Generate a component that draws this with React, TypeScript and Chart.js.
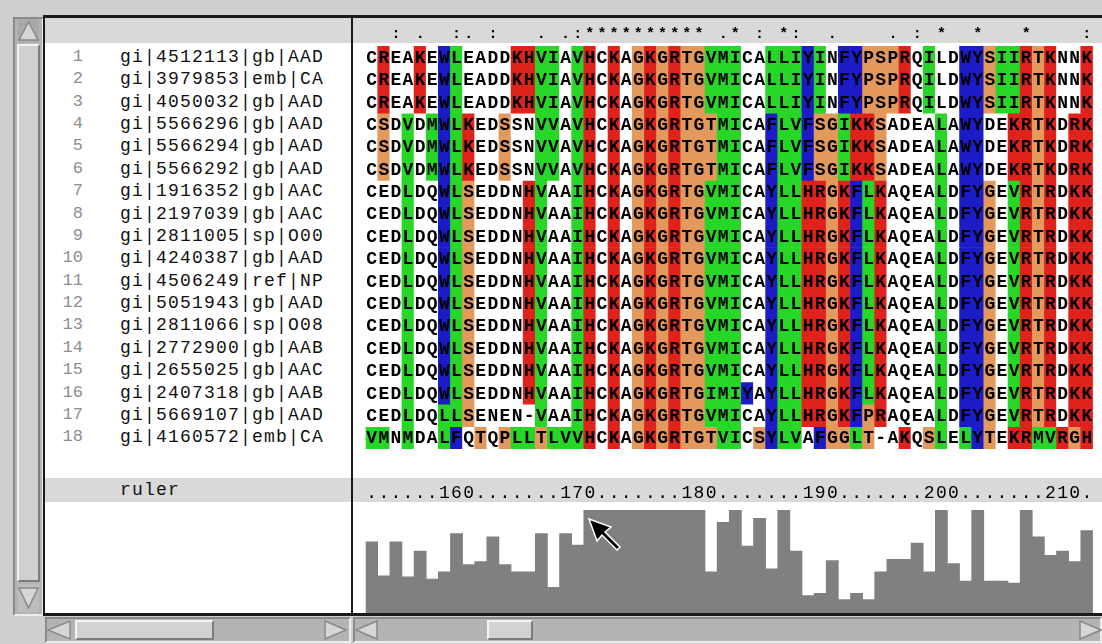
import React, { useEffect, useRef } from "react";
import { Chart, registerables } from "chart.js";

Chart.register(...registerables);

// ---------------- DATA ----------------
const positions = [
  152, 153, 154, 155, 156, 157, 158, 159, 160, 161,
  162, 163, 164, 165, 166, 167, 168, 169, 170, 171,
  172, 173, 174, 175, 176, 177, 178, 179, 180, 181,
  182, 183, 184, 185, 186, 187, 188, 189, 190, 191,
  192, 193, 194, 195, 196, 197, 198, 199, 200, 201,
  202, 203, 204, 205, 206, 207, 208, 209, 210, 211,
];

const seqNames = [
  "gi|4512113|gb|AAD",
  "gi|3979853|emb|CA",
  "gi|4050032|gb|AAD",
  "gi|5566296|gb|AAD",
  "gi|5566294|gb|AAD",
  "gi|5566292|gb|AAD",
  "gi|1916352|gb|AAC",
  "gi|2197039|gb|AAC",
  "gi|2811005|sp|O00",
  "gi|4240387|gb|AAD",
  "gi|4506249|ref|NP",
  "gi|5051943|gb|AAD",
  "gi|2811066|sp|O08",
  "gi|2772900|gb|AAB",
  "gi|2655025|gb|AAC",
  "gi|2407318|gb|AAB",
  "gi|5669107|gb|AAD",
  "gi|4160572|emb|CA",
];

const sequences = [
  "CREAKEWLEADDKHVIAVHCKAGKGRTGVMICALLIYINFYPSPRQILDWYSIIRTKNNK",
  "CREAKEWLEADDKHVIAVHCKAGKGRTGVMICALLIYINFYPSPRQILDWYSIIRTKNNK",
  "CREAKEWLEADDKHVIAVHCKAGKGRTGVMICALLIYINFYPSPRQILDWYSIIRTKNNK",
  "CSDVDMWLKEDSSNVVAVHCKAGKGRTGTMICAFLVFSGIKKSADEALAWYDEKRTKDRK",
  "CSDVDMWLKEDSSNVVAVHCKAGKGRTGTMICAFLVFSGIKKSADEALAWYDEKRTKDRK",
  "CSDVDMWLKEDSSNVVAVHCKAGKGRTGTMICAFLVFSGIKKSADEALAWYDEKRTKDRK",
  "CEDLDQWLSEDDNHVAAIHCKAGKGRTGVMICAYLLHRGKFLKAQEALDFYGEVRTRDKK",
  "CEDLDQWLSEDDNHVAAIHCKAGKGRTGVMICAYLLHRGKFLKAQEALDFYGEVRTRDKK",
  "CEDLDQWLSEDDNHVAAIHCKAGKGRTGVMICAYLLHRGKFLKAQEALDFYGEVRTRDKK",
  "CEDLDQWLSEDDNHVAAIHCKAGKGRTGVMICAYLLHRGKFLKAQEALDFYGEVRTRDKK",
  "CEDLDQWLSEDDNHVAAIHCKAGKGRTGVMICAYLLHRGKFLKAQEALDFYGEVRTRDKK",
  "CEDLDQWLSEDDNHVAAIHCKAGKGRTGVMICAYLLHRGKFLKAQEALDFYGEVRTRDKK",
  "CEDLDQWLSEDDNHVAAIHCKAGKGRTGVMICAYLLHRGKFLKAQEALDFYGEVRTRDKK",
  "CEDLDQWLSEDDNHVAAIHCKAGKGRTGVMICAYLLHRGKFLKAQEALDFYGEVRTRDKK",
  "CEDLDQWLSEDDNHVAAIHCKAGKGRTGVMICAYLLHRGKFLKAQEALDFYGEVRTRDKK",
  "CEDLDQWLSEDDNHVAAIHCKAGKGRTGIMIYAYLLHRGKFLKAQEALDFYGEVRTRDKK",
  "CEDLDQLLSENEN-VAAIHCKAGKGRTGVMICAYLLHRGKFPRAQEALDFYGEVRTRDKK",
  "VMNMDALFQTQPLLTLVVHCKAGKGRTGTVICSYLVAFGGLT-AKQSLELYTEKRMVRGH",
];

// r = red, g = green, b = blue, o = orange, . = uncoloured
const colourCodes = [
  ".r..r.bg....rrgg.gr.r.ororoogg" + "g..gggbg.bbooor.g..bboggror..r",
  ".r..r.bg....rrgg.gr.r.ororoogg" + "g..gggbg.bbooor.g..bboggror..r",
  ".r..r.bg....rrgg.gr.r.ororoogg" + "g..gggbg.bbooor.g..bboggror..r",
  ".o.g.gbgr..o..gg.gr.r.ororooog" + "g..bggboogrro....g.bb..rror.rr",
  ".o.g.gbgr..o..gg.gr.r.ororooog" + "g..bggboogrro....g.bb..rror.rr",
  ".o.g.gbgr..o..gg.gr.r.ororooog" + "g..bggboogrro....g.bb..rror.rr",
  "...g..bgo....rg..gr.r.ororoogg" + "g..bggrrorbgr....g.bbo.gror.rr",
  "...g..bgo....rg..gr.r.ororoogg" + "g..bggrrorbgr....g.bbo.gror.rr",
  "...g..bgo....rg..gr.r.ororoogg" + "g..bggrrorbgr....g.bbo.gror.rr",
  "...g..bgo....rg..gr.r.ororoogg" + "g..bggrrorbgr....g.bbo.gror.rr",
  "...g..bgo....rg..gr.r.ororoogg" + "g..bggrrorbgr....g.bbo.gror.rr",
  "...g..bgo....rg..gr.r.ororoogg" + "g..bggrrorbgr....g.bbo.gror.rr",
  "...g..bgo....rg..gr.r.ororoogg" + "g..bggrrorbgr....g.bbo.gror.rr",
  "...g..bgo....rg..gr.r.ororoogg" + "g..bggrrorbgr....g.bbo.gror.rr",
  "...g..bgo....rg..gr.r.ororoogg" + "g..bggrrorbgr....g.bbo.gror.rr",
  "...g..bgo....rg..gr.r.ororoogg" + "gb.bggrrorbgr....g.bbo.gror.rr",
  "...g..ggo.....g..gr.r.ororoogg" + "g..bggrrorbor....g.bbo.gror.rr",
  "gg.g..gb.o.oggogggr.r.ororooog" + "g.obgg.boogo..r.og.gbo.rrggror",
];

const consensus = "  : .  :. :   . .:**" + "******** .* : *:  . " + "   . : *  *   *    :";

const conservation = [
  69, 36, 69, 35, 60, 33, 40, 77, 47, 50,
  74, 47, 40, 40, 77, 25, 77, 66, 100, 100,
  100, 100, 100, 100, 100, 100, 100, 100, 40, 88,
  100, 65, 92, 43, 100, 60, 17, 19, 51, 13,
  19, 13, 40, 52, 52, 68, 40, 100, 48, 31,
  100, 31, 31, 29, 100, 74, 56, 60, 50, 80,
];

const residueColours: Record<string, string> = {
  r: "#e0221c",
  g: "#27d627",
  b: "#1c1cc6",
  o: "#e3985c",
  ".": "#ffffff",
};

// ---------------- LAYOUT CONSTANTS ----------------
const ALN_TOP = 46;
const ROW_H = 22.37;
const MONO = '"Liberation Mono", "DejaVu Sans Mono", monospace';

function rulerChars(): string[] {
  const out = positions.map(() => ".");
  positions.forEach((p, i) => {
    if (p % 10 === 0) {
      const s = String(p);
      for (let k = 0; k < s.length; k++) {
        const idx = i - (s.length - 1) + k;
        if (idx >= 0) out[idx] = s[k];
      }
    }
  });
  return out;
}

const letterPlugin = {
  id: "residueLetters",
  afterDatasetsDraw(chart: any) {
    const ctx = chart.ctx;
    ctx.save();
    ctx.fillStyle = "#000";
    ctx.textAlign = "center";
    ctx.textBaseline = "middle";
    ctx.font = `bold 18px ${MONO}`;
    sequences.forEach((seq, r) => {
      const meta = chart.getDatasetMeta(r);
      meta.data.forEach((el: any, i: number) => {
        const p = el.getProps(["x", "y", "base"], true);
        ctx.fillText(seq[i], p.x, (p.y + p.base) / 2 + 1);
      });
    });
    const xs = chart.scales.x;
    ctx.font = `bold 15px ${MONO}`;
    consensus.split("").forEach((c, i) => {
      if (c !== " ") ctx.fillText(c, xs.getPixelForValue(i), chart.chartArea.top - 12);
    });
    ctx.restore();
  },
};

const rulerPlugin = {
  id: "rulerText",
  afterDatasetsDraw(chart: any) {
    const ctx = chart.ctx;
    const xs = chart.scales.x;
    ctx.save();
    ctx.fillStyle = "#000";
    ctx.textAlign = "center";
    ctx.textBaseline = "middle";
    ctx.font = `18px ${MONO}`;
    rulerChars().forEach((c, i) => {
      ctx.fillText(c, xs.getPixelForValue(i), chart.chartArea.top - 17);
    });
    ctx.restore();
  },
};

function Box(props: { x: number; y: number; w: number; h: number; bg: string; style?: any }) {
  return (
    <div
      style={{
        position: "absolute",
        left: props.x,
        top: props.y,
        width: props.w,
        height: props.h,
        background: props.bg,
        boxSizing: "border-box",
        ...(props.style || {}),
      }}
    />
  );
}

const bevel = {
  borderTop: "2px solid #f4f4f4",
  borderLeft: "2px solid #f4f4f4",
  borderBottom: "2px solid #7c7c7c",
  borderRight: "2px solid #7c7c7c",
};
const inset = {
  borderTop: "2px solid #8a8a8a",
  borderLeft: "2px solid #8a8a8a",
  borderBottom: "2px solid #ececec",
  borderRight: "2px solid #ececec",
};

export default function App() {
  const alnRef = useRef<HTMLCanvasElement>(null);
  const histRef = useRef<HTMLCanvasElement>(null);

  useEffect(() => {
    const labels = positions.map(String);
    const aln = new Chart(alnRef.current as HTMLCanvasElement, {
      type: "bar",
      data: {
        labels,
        datasets: sequences.map((seq, r) => ({
          label: seqNames[r],
          data: seq.split("").map(() => 1),
          backgroundColor: colourCodes[r].split("").map((c) => residueColours[c] || "#ffffff"),
          borderWidth: 0,
          categoryPercentage: 1,
          barPercentage: 1,
        })),
      },
      options: {
        animation: false,
        responsive: false,
        maintainAspectRatio: false,
        devicePixelRatio: 1,
        events: [],
        layout: { padding: { left: 12.6, right: 9.1, top: 28, bottom: 0 } },
        plugins: { legend: { display: false }, tooltip: { enabled: false } },
        scales: {
          x: { display: false, stacked: true },
          y: { display: false, stacked: true, min: 0, max: sequences.length, reverse: true },
        },
      },
      plugins: [letterPlugin],
    } as any);

    const hist = new Chart(histRef.current as HTMLCanvasElement, {
      type: "bar",
      data: {
        labels,
        datasets: [
          {
            label: "conservation",
            data: conservation,
            backgroundColor: "#808080",
            borderWidth: 0,
            categoryPercentage: 1,
            barPercentage: 1,
          },
        ],
      },
      options: {
        animation: false,
        responsive: false,
        maintainAspectRatio: false,
        devicePixelRatio: 1,
        events: [],
        layout: { padding: { left: 12.6, right: 9.1, top: 32, bottom: 0 } },
        plugins: { legend: { display: false }, tooltip: { enabled: false } },
        scales: {
          x: { display: false },
          y: { display: false, min: 0, max: 100 },
        },
      },
      plugins: [rulerPlugin],
    } as any);

    return () => {
      aln.destroy();
      hist.destroy();
    };
  }, []);

  const nameFont = {
    fontFamily: MONO,
    fontSize: 18,
    letterSpacing: "1.2px",
    whiteSpace: "pre" as const,
  };

  return (
    <div
      style={{
        position: "fixed",
        left: 0,
        top: 0,
        width: 1102,
        height: 644,
        overflow: "hidden",
        background: "#cfcfcf",
      }}
    >
      {/* left vertical scrollbar */}
      <Box x={13} y={17} w={31} h={599} bg="#b4b4b4" style={inset} />
      <Box x={17} y={44} w={23} h={538} bg="#d0d0d0" style={bevel} />

      {/* panels */}
      <Box x={45} y={18} w={306} h={596} bg="#ffffff" />
      <Box x={353} y={18} w={749} h={596} bg="#ffffff" />
      <Box x={45} y={18} w={306} h={25} bg="#d9d9d9" />
      <Box x={353} y={18} w={749} h={25} bg="#d9d9d9" />
      <Box x={45} y={478} w={1057} h={24} bg="#d9d9d9" />

      {/* borders */}
      <Box x={43} y={15} w={1059} h={3} bg="#1a1a1a" />
      <Box x={43} y={15} w={2} h={601} bg="#1a1a1a" />
      <Box x={351} y={15} w={2} h={601} bg="#1a1a1a" />
      <Box x={43} y={613} w={1059} h={3} bg="#1a1a1a" />

      {/* bottom scrollbars */}
      <Box x={45} y={617} w={306} h={26} bg="#b4b4b4" style={inset} />
      <Box x={75} y={620} w={139} h={20} bg="#d2d2d2" style={bevel} />
      <Box x={353} y={617} w={749} h={26} bg="#b4b4b4" style={inset} />
      <Box x={487} y={620} w={46} h={20} bg="#d2d2d2" style={bevel} />

      {/* names */}
      {seqNames.map((n, i) => (
        <React.Fragment key={n + i}>
          <div
            style={{
              position: "absolute",
              left: 30,
              width: 53,
              top: ALN_TOP + i * ROW_H,
              height: ROW_H,
              lineHeight: `${ROW_H}px`,
              textAlign: "right",
              color: "#8e8e8e",
              ...nameFont,
              letterSpacing: "0px",
              fontSize: 17,
            }}
          >
            {i + 1}
          </div>
          <div
            style={{
              position: "absolute",
              left: 120,
              top: ALN_TOP + i * ROW_H,
              height: ROW_H,
              lineHeight: `${ROW_H}px`,
              color: "#111",
              ...nameFont,
            }}
          >
            {n}
          </div>
        </React.Fragment>
      ))}
      <div
        style={{
          position: "absolute",
          left: 120,
          top: 478,
          height: 24,
          lineHeight: "24px",
          color: "#111",
          ...nameFont,
        }}
      >
        ruler
      </div>

      <canvas
        ref={alnRef}
        width={749}
        height={431}
        style={{ position: "absolute", left: 353, top: 18, width: 749, height: 431 }}
      />
      <canvas
        ref={histRef}
        width={749}
        height={135}
        style={{ position: "absolute", left: 353, top: 478, width: 749, height: 135 }}
      />

      {/* scroll arrows + pointer */}
      <svg
        width={1102}
        height={644}
        style={{ position: "absolute", left: 0, top: 0, pointerEvents: "none" }}
      >
        <rect x={18} y={19} width={21} height={23} fill="#a9a9a9" />
        <polygon points="28.5,22 38,40 19,40" fill="#d6d6d6" stroke="#8a8a8a" strokeWidth={1.5} />
        <rect x={18} y={584} width={21} height={28} fill="#bdbdbd" />
        <polygon points="19,588 38,588 28.5,608" fill="#d6d6d6" stroke="#8a8a8a" strokeWidth={1.5} />
        <polygon points="48,630 70,621 70,639" fill="#d6d6d6" stroke="#8a8a8a" strokeWidth={1.5} />
        <polygon points="346,630 325,621 325,639" fill="#d6d6d6" stroke="#8a8a8a" strokeWidth={1.5} />
        <polygon points="356,630 377,621 377,639" fill="#d6d6d6" stroke="#8a8a8a" strokeWidth={1.5} />
        <polygon points="1101,630 1080,621 1080,639" fill="#d6d6d6" stroke="#8a8a8a" strokeWidth={1.5} />
        <g transform="translate(589,519)">
          <polygon
            points="0,0 22,8 16,13 31,28 28,31 13,16 8,22"
            fill="#000"
            stroke="#fff"
            strokeWidth={1.5}
          />
        </g>
      </svg>
    </div>
  );
}
